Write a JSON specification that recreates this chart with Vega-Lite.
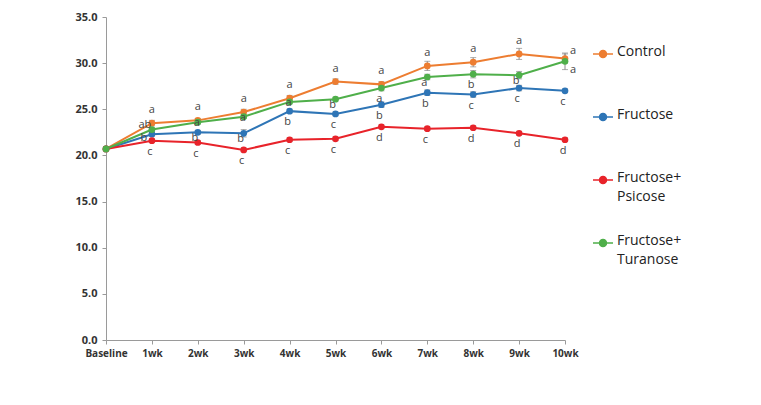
{
  "$schema": "https://vega.github.io/schema/vega-lite/v6.json",
  "width": 459,
  "height": 323,
  "autosize": "none",
  "padding": {"left": 106, "top": 17, "right": 196, "bottom": 65},
  "background": "white",
  "config": {
    "view": {"stroke": null},
    "font": "Open Sans"
  },
  "datasets": {
    "main": [
      {"week": "Baseline", "group": "Control", "value": 20.7, "err": 0},
      {"week": "1wk", "group": "Control", "value": 23.5, "err": 0.3},
      {"week": "2wk", "group": "Control", "value": 23.8, "err": 0.2},
      {"week": "3wk", "group": "Control", "value": 24.7, "err": 0.3},
      {"week": "4wk", "group": "Control", "value": 26.2, "err": 0.3},
      {"week": "5wk", "group": "Control", "value": 28.0, "err": 0.3},
      {"week": "6wk", "group": "Control", "value": 27.7, "err": 0.3},
      {"week": "7wk", "group": "Control", "value": 29.7, "err": 0.5},
      {"week": "8wk", "group": "Control", "value": 30.1, "err": 0.5},
      {"week": "9wk", "group": "Control", "value": 31.0, "err": 0.6},
      {"week": "10wk", "group": "Control", "value": 30.5, "err": 0.5},
      {"week": "Baseline", "group": "Fructose", "value": 20.7, "err": 0},
      {"week": "1wk", "group": "Fructose", "value": 22.3, "err": 0.2},
      {"week": "2wk", "group": "Fructose", "value": 22.5, "err": 0.2},
      {"week": "3wk", "group": "Fructose", "value": 22.4, "err": 0.4},
      {"week": "4wk", "group": "Fructose", "value": 24.8, "err": 0.2},
      {"week": "5wk", "group": "Fructose", "value": 24.5, "err": 0.2},
      {"week": "6wk", "group": "Fructose", "value": 25.5, "err": 0.3},
      {"week": "7wk", "group": "Fructose", "value": 26.8, "err": 0.3},
      {"week": "8wk", "group": "Fructose", "value": 26.6, "err": 0.3},
      {"week": "9wk", "group": "Fructose", "value": 27.3, "err": 0.3},
      {"week": "10wk", "group": "Fructose", "value": 27.0, "err": 0.2},
      {"week": "Baseline", "group": "Fructose+Psicose", "value": 20.7, "err": 0},
      {"week": "1wk", "group": "Fructose+Psicose", "value": 21.6, "err": 0.2},
      {"week": "2wk", "group": "Fructose+Psicose", "value": 21.4, "err": 0.2},
      {"week": "3wk", "group": "Fructose+Psicose", "value": 20.6, "err": 0.2},
      {"week": "4wk", "group": "Fructose+Psicose", "value": 21.7, "err": 0.2},
      {"week": "5wk", "group": "Fructose+Psicose", "value": 21.8, "err": 0.2},
      {"week": "6wk", "group": "Fructose+Psicose", "value": 23.1, "err": 0.2},
      {"week": "7wk", "group": "Fructose+Psicose", "value": 22.9, "err": 0.2},
      {"week": "8wk", "group": "Fructose+Psicose", "value": 23.0, "err": 0.2},
      {"week": "9wk", "group": "Fructose+Psicose", "value": 22.4, "err": 0.2},
      {"week": "10wk", "group": "Fructose+Psicose", "value": 21.7, "err": 0.2},
      {"week": "Baseline", "group": "Fructose+Turanose", "value": 20.7, "err": 0},
      {"week": "1wk", "group": "Fructose+Turanose", "value": 22.8, "err": 0.2},
      {"week": "2wk", "group": "Fructose+Turanose", "value": 23.6, "err": 0.2},
      {"week": "3wk", "group": "Fructose+Turanose", "value": 24.2, "err": 0.2},
      {"week": "4wk", "group": "Fructose+Turanose", "value": 25.8, "err": 0.2},
      {"week": "5wk", "group": "Fructose+Turanose", "value": 26.1, "err": 0.2},
      {"week": "6wk", "group": "Fructose+Turanose", "value": 27.3, "err": 0.3},
      {"week": "7wk", "group": "Fructose+Turanose", "value": 28.5, "err": 0.3},
      {"week": "8wk", "group": "Fructose+Turanose", "value": 28.8, "err": 0.4},
      {"week": "9wk", "group": "Fructose+Turanose", "value": 28.7, "err": 0.4},
      {"week": "10wk", "group": "Fructose+Turanose", "value": 30.2, "err": 0.9}
    ],
    "letters": [
      {"week": "1wk", "group": "Control", "value": 23.5, "letter": "a", "side": "above"},
      {"week": "1wk", "group": "Fructose+Turanose", "value": 22.8, "letter": "ab", "side": "leftup"},
      {"week": "1wk", "group": "Fructose", "value": 22.3, "letter": "b", "side": "left"},
      {"week": "1wk", "group": "Fructose+Psicose", "value": 21.6, "letter": "c", "side": "below"},
      {"week": "2wk", "group": "Control", "value": 23.8, "letter": "a", "side": "above"},
      {"week": "2wk", "group": "Fructose+Turanose", "value": 23.6, "letter": "a", "side": "on"},
      {"week": "2wk", "group": "Fructose", "value": 22.5, "letter": "b", "side": "near"},
      {"week": "2wk", "group": "Fructose+Psicose", "value": 21.4, "letter": "c", "side": "below"},
      {"week": "3wk", "group": "Control", "value": 24.7, "letter": "a", "side": "above"},
      {"week": "3wk", "group": "Fructose+Turanose", "value": 24.2, "letter": "a", "side": "on"},
      {"week": "3wk", "group": "Fructose", "value": 22.4, "letter": "b", "side": "near"},
      {"week": "3wk", "group": "Fructose+Psicose", "value": 20.6, "letter": "c", "side": "below"},
      {"week": "4wk", "group": "Control", "value": 26.2, "letter": "a", "side": "above"},
      {"week": "4wk", "group": "Fructose+Turanose", "value": 25.8, "letter": "a", "side": "on"},
      {"week": "4wk", "group": "Fructose", "value": 24.8, "letter": "b", "side": "below"},
      {"week": "4wk", "group": "Fructose+Psicose", "value": 21.7, "letter": "c", "side": "below"},
      {"week": "5wk", "group": "Control", "value": 28.0, "letter": "a", "side": "above"},
      {"week": "5wk", "group": "Fructose+Turanose", "value": 26.1, "letter": "b", "side": "near"},
      {"week": "5wk", "group": "Fructose", "value": 24.5, "letter": "c", "side": "below"},
      {"week": "5wk", "group": "Fructose+Psicose", "value": 21.8, "letter": "c", "side": "below"},
      {"week": "6wk", "group": "Control", "value": 27.7, "letter": "a", "side": "above"},
      {"week": "6wk", "group": "Fructose+Turanose", "value": 27.3, "letter": "a", "side": "below"},
      {"week": "6wk", "group": "Fructose", "value": 25.5, "letter": "b", "side": "below"},
      {"week": "6wk", "group": "Fructose+Psicose", "value": 23.1, "letter": "d", "side": "below"},
      {"week": "7wk", "group": "Control", "value": 29.7, "letter": "a", "side": "above"},
      {"week": "7wk", "group": "Fructose+Turanose", "value": 28.5, "letter": "a", "side": "near"},
      {"week": "7wk", "group": "Fructose", "value": 26.8, "letter": "b", "side": "below"},
      {"week": "7wk", "group": "Fructose+Psicose", "value": 22.9, "letter": "c", "side": "below"},
      {"week": "8wk", "group": "Control", "value": 30.1, "letter": "a", "side": "above"},
      {"week": "8wk", "group": "Fructose+Turanose", "value": 28.8, "letter": "b", "side": "below"},
      {"week": "8wk", "group": "Fructose", "value": 26.6, "letter": "c", "side": "below"},
      {"week": "8wk", "group": "Fructose+Psicose", "value": 23.0, "letter": "d", "side": "below"},
      {"week": "9wk", "group": "Control", "value": 31.0, "letter": "a", "side": "above"},
      {"week": "9wk", "group": "Fructose+Turanose", "value": 28.7, "letter": "b", "side": "near"},
      {"week": "9wk", "group": "Fructose", "value": 27.3, "letter": "c", "side": "below"},
      {"week": "9wk", "group": "Fructose+Psicose", "value": 22.4, "letter": "d", "side": "below"},
      {"week": "10wk", "group": "Control", "value": 30.5, "letter": "a", "side": "rightup"},
      {"week": "10wk", "group": "Fructose+Turanose", "value": 30.2, "letter": "a", "side": "rightdown"},
      {"week": "10wk", "group": "Fructose", "value": 27.0, "letter": "c", "side": "below"},
      {"week": "10wk", "group": "Fructose+Psicose", "value": 21.7, "letter": "d", "side": "below"}
    ]
  },
  "encoding": {
    "x": {
      "field": "week",
      "type": "ordinal",
      "sort": ["Baseline", "1wk", "2wk", "3wk", "4wk", "5wk", "6wk", "7wk", "8wk", "9wk", "10wk"],
      "scale": {"type": "point", "padding": 0},
      "axis": {
        "title": null,
        "labelAngle": 0,
        "labelFont": "Open Sans",
        "labelFontSize": 10,
        "labelFontWeight": "bold",
        "labelColor": "#333333",
        "labelPadding": 4,
        "domainColor": "#9a9a9a",
        "tickColor": "#9a9a9a",
        "tickSize": 4,
        "grid": false
      }
    },
    "y": {
      "field": "value",
      "type": "quantitative",
      "scale": {"domain": [0, 35], "nice": false, "zero": true},
      "axis": {
        "title": null,
        "values": [0, 5, 10, 15, 20, 25, 30, 35],
        "format": ".1f",
        "labelFont": "Open Sans",
        "labelFontSize": 11,
        "labelFontWeight": "bold",
        "labelColor": "#333333",
        "labelPadding": 5,
        "domainColor": "#9a9a9a",
        "tickColor": "#9a9a9a",
        "tickSize": 4,
        "grid": false
      }
    }
  },
  "layer": [
    {
      "data": {"name": "main"},
      "mark": {"type": "errorbar", "ticks": {"size": 6, "color": "#8a8a8a"}, "color": "#8a8a8a"},
      "encoding": {
        "y": {"field": "value", "type": "quantitative"},
        "yError": {"field": "err"},
        "detail": {"field": "group"}
      }
    },
    {
      "data": {"name": "main"},
      "mark": {"type": "line", "strokeWidth": 2, "point": {"filled": true, "size": 45, "opacity": 1}},
      "encoding": {
        "color": {
          "field": "group",
          "type": "nominal",
          "scale": {
            "domain": ["Control", "Fructose", "Fructose+Psicose", "Fructose+Turanose"],
            "range": ["#ED7D31", "#2E75B6", "#E8232A", "#4FAF4A"]
          },
          "legend": {
            "title": null,
            "orient": "none",
            "legendX": 486,
            "legendY": 29,
            "symbolType": "M-1,0H1M-0.35,0A0.35,0.35 0 1,1 0.35,0A0.35,0.35 0 1,1 -0.35,0",
            "symbolSize": 400,
            "symbolStrokeWidth": 1.5,
            "labelFont": "Open Sans",
            "labelFontSize": 14,
            "labelColor": "#222222",
            "labelBaseline": "top",
            "labelOffset": 3,
            "labelLimit": 200,
            "gridAlign": "all",
            "clipHeight": 16,
            "rowPadding": 30,
            "labelExpr": "split(replace(datum.label, '+', '+|'), '|')",
            "encode": {
              "labels": {"update": {"dy": {"value": -9}, "lineHeight": {"value": 19}}}
            }
          }
        }
      }
    },
    {
      "data": {"name": "letters"},
      "transform": [{"filter": "datum.side == 'above'"}],
      "mark": {"type": "text", "dy": -13, "fontSize": 11, "color": "#444444", "font": "Open Sans"},
      "encoding": {"text": {"field": "letter"}}
    },
    {
      "data": {"name": "letters"},
      "transform": [{"filter": "datum.side == 'below'"}],
      "mark": {"type": "text", "dy": 11, "dx": -2, "fontSize": 11, "color": "#444444", "font": "Open Sans"},
      "encoding": {"text": {"field": "letter"}}
    },
    {
      "data": {"name": "letters"},
      "transform": [{"filter": "datum.side == 'near'"}],
      "mark": {"type": "text", "dy": 6, "dx": -3, "fontSize": 11, "color": "#444444", "font": "Open Sans"},
      "encoding": {"text": {"field": "letter"}}
    },
    {
      "data": {"name": "letters"},
      "transform": [{"filter": "datum.side == 'on'"}],
      "mark": {"type": "text", "dy": 1, "dx": -1, "fontSize": 11, "color": "#444444", "font": "Open Sans"},
      "encoding": {"text": {"field": "letter"}}
    },
    {
      "data": {"name": "letters"},
      "transform": [{"filter": "datum.side == 'leftup'"}],
      "mark": {"type": "text", "dy": -5, "dx": -7, "fontSize": 11, "color": "#444444", "font": "Open Sans"},
      "encoding": {"text": {"field": "letter"}}
    },
    {
      "data": {"name": "letters"},
      "transform": [{"filter": "datum.side == 'left'"}],
      "mark": {"type": "text", "dy": 4, "dx": -8, "fontSize": 11, "color": "#444444", "font": "Open Sans"},
      "encoding": {"text": {"field": "letter"}}
    },
    {
      "data": {"name": "letters"},
      "transform": [{"filter": "datum.side == 'rightup'"}],
      "mark": {"type": "text", "dy": -8, "dx": 8, "fontSize": 11, "color": "#444444", "font": "Open Sans"},
      "encoding": {"text": {"field": "letter"}}
    },
    {
      "data": {"name": "letters"},
      "transform": [{"filter": "datum.side == 'rightdown'"}],
      "mark": {"type": "text", "dy": 9, "dx": 8, "fontSize": 11, "color": "#444444", "font": "Open Sans"},
      "encoding": {"text": {"field": "letter"}}
    }
  ]
}
